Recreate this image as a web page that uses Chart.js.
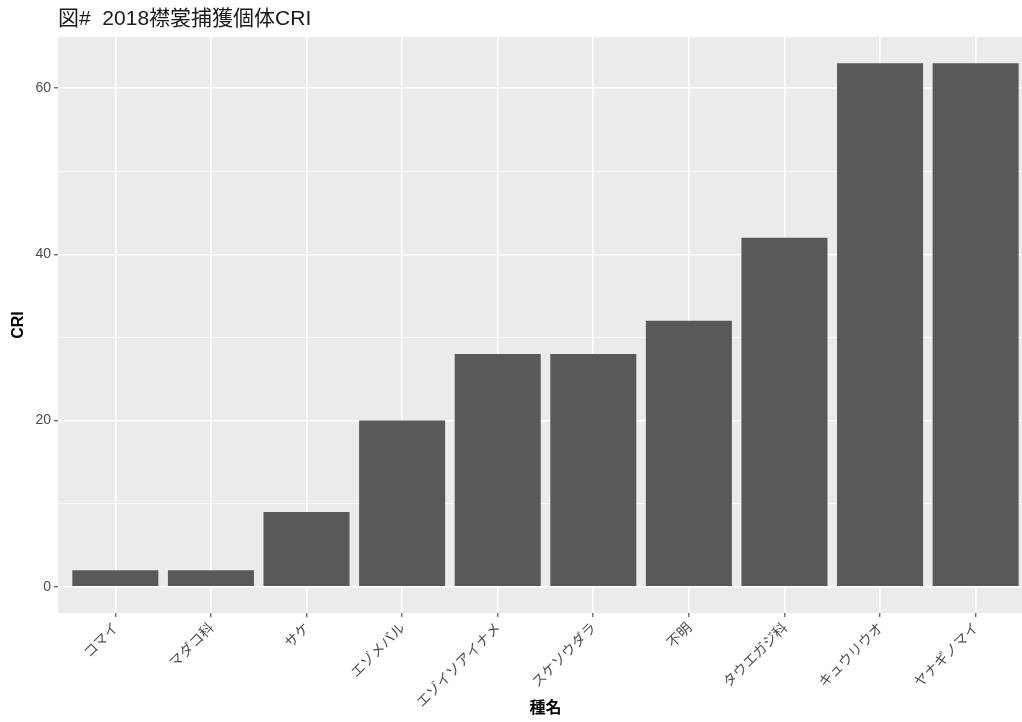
<!DOCTYPE html>
<html>
<head>
<meta charset="utf-8">
<script src="https://cdn.jsdelivr.net/npm/chart.js@4"></script>
<style>
html,body{margin:0;padding:0;overflow:hidden;background:#fff;}
#c{display:block;}
</style>
</head>
<body>
<canvas id="c" width="1040" height="722" style="width:1040px;height:722px"></canvas>
<script>
const categories = ["コマイ","マダコ科","サケ","エゾメバル","エゾイソアイナメ","スケソウダラ","不明","タウエガジ科","キュウリウオ","ヤナギノマイ"];
const criValues = [2, 2, 9, 20, 28, 28, 32, 42, 63, 63];
const yTicks = [0, 10, 20, 30, 40, 50, 60];
const yMajor = [0, 20, 40, 60];
const titleText = "図#  2018襟裳捕獲個体CRI";
const xTitle = "種名";
const yTitle = "CRI";

const FONT = '"Liberation Sans", "Noto Sans CJK JP", sans-serif';
const JP = '"Noto Sans CJK JP", sans-serif';

const panelBg = {
  id: 'panelBg',
  beforeDraw(chart) {
    const a = chart.chartArea, ctx = chart.ctx;
    ctx.save();
    ctx.fillStyle = '#EBEBEB';
    ctx.fillRect(a.left, a.top, a.right - a.left, a.bottom - a.top);
    ctx.restore();
  }
};

const yMax = Math.max(...criValues);
const yPad = yMax * 0.05;

new Chart(document.getElementById('c'), {
  type: 'bar',
  data: {
    datasets: [{
      data: criValues.map((v, i) => ({x: i, y: v})),
      backgroundColor: '#595959',
      borderWidth: 0,
      barPercentage: 0.9,
      categoryPercentage: 1.0
    }]
  },
  options: {
    responsive: false,
    devicePixelRatio: 1,
    animation: false,
    layout: {padding: {left: 9, right: 7, top: 0, bottom: 0}},
    plugins: {
      legend: {display: false},
      tooltip: {enabled: false},
      title: {
        display: true,
        text: titleText,
        align: 'start',
        fullSize: false,
        color: '#1a1a1a',
        font: {family: FONT, size: 21, weight: 'normal', lineHeight: 1.2},
        padding: {top: 7, bottom: 4.8}
      }
    },
    scales: {
      x: {
        type: 'linear',
        offset: false,
        min: -0.6,
        max: categories.length - 1 + 0.6,
        afterBuildTicks(scale) {
          scale.ticks = categories.map((c, i) => ({value: i}));
        },
        afterFit(scale) { scale.height = 109; },
        ticks: {
          autoSkip: false,
          maxRotation: 45,
          minRotation: 45,
          padding: 2,
          color: '#4D4D4D',
          font: {family: JP, size: 14},
          callback: (v) => categories[v] !== undefined ? categories[v] : ''
        },
        grid: {
          offset: false,
          color: '#FFFFFF',
          lineWidth: 1.6,
          drawTicks: true,
          tickLength: 4,
          tickColor: '#333333',
          tickWidth: 1
        },
        border: {display: false},
        title: {
          display: true,
          text: xTitle,
          color: '#000',
          font: {family: JP, size: 16, weight: 'bold'},
          padding: {top: 0, bottom: 5}
        }
      },
      y: {
        type: 'linear',
        min: -yPad,
        max: yMax + yPad,
        afterBuildTicks(scale) {
          scale.ticks = yTicks.map(v => ({value: v}));
        },
        afterFit(scale) { scale.width = 49; },
        ticks: {
          padding: 3,
          color: '#4D4D4D',
          font: {family: FONT, size: 14},
          callback: (v) => yMajor.includes(v) ? String(v) : ''
        },
        grid: {
          color: '#FFFFFF',
          lineWidth: (ctx) => (ctx.tick && yMajor.includes(ctx.tick.value)) ? 1.6 : 0.7,
          drawTicks: true,
          tickLength: 4,
          tickColor: (ctx) => (ctx.tick && yMajor.includes(ctx.tick.value)) ? '#333333' : 'rgba(0,0,0,0)',
          tickWidth: 1
        },
        border: {display: false},
        title: {
          display: true,
          text: yTitle,
          color: '#000',
          font: {family: FONT, size: 16, weight: 'bold'},
          padding: {top: 0, bottom: 4}
        }
      }
    }
  },
  plugins: [panelBg]
});
</script>
</body>
</html>
